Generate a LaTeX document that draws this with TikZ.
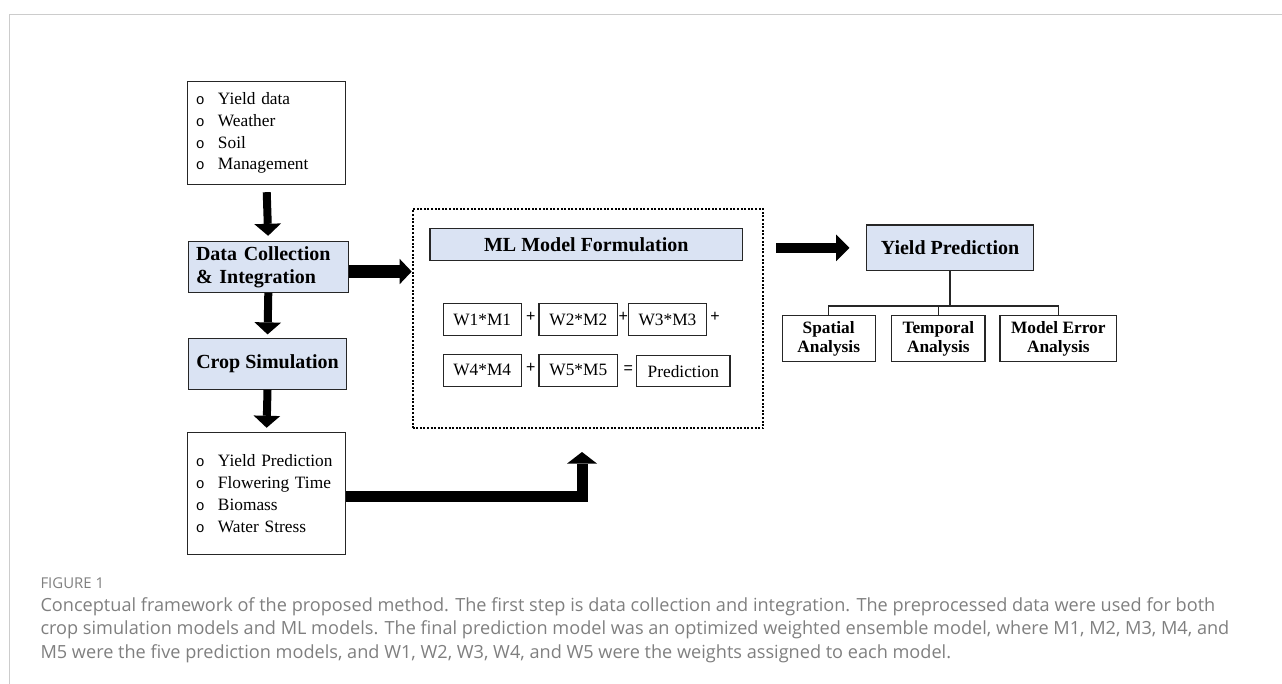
\documentclass[tikz,border=0pt]{standalone}
\usepackage{fontspec}
\setmainfont{Liberation Serif}
\setsansfont{Liberation Sans}
\newfontfamily\capfont{Open Sans}
\newfontfamily\bulfont{Liberation Mono}
\usetikzlibrary{arrows.meta, positioning, calc}
\definecolor{cblue}{HTML}{DAE3F3}
\definecolor{cedge}{HTML}{262626}
\definecolor{cgrey}{HTML}{7F7F7F}
\definecolor{cframe}{HTML}{CCCCCC}
\newcommand{\itm}[1]{\makebox[16.5pt][l]{\bulfont\fontsize{11}{11}\selectfont o}#1}
\tikzset{
  every picture/.style={line width=0.8pt},
  plain/.style={draw=cedge, fill=white, inner sep=0pt, font=\fontsize{13}{16.35}\selectfont},
  listbox/.style={plain, align=left, text width=105.8pt, inner xsep=6pt, minimum width=118.8pt},
  head/.style={draw=cedge, fill=cblue, inner sep=0pt, font=\bfseries\fontsize{15}{17}\selectfont},
  sub/.style={plain, align=center, minimum height=34.3pt, font=\bfseries\fontsize{13}{14}\selectfont},
  term/.style={plain, minimum height=24.3pt},
  op/.style={inner sep=0pt, font=\sffamily\fontsize{12}{12}\selectfont},
  blockarrow/.style={draw=black, line width=6pt, -{Triangle[length=9pt, width=20pt, line width=0pt]}},
  caption/.style={anchor=west, inner sep=0pt, text=cgrey, font=\capfont\fontsize{13.6}{15}\selectfont},
}

\begin{document}
\begin{tikzpicture}[x=0.75pt, y=-0.75pt]
  \useasboundingbox (0,0) rectangle (1282,684);
  \draw[cframe, line width=0.75pt] (9,684) -- (9,15) -- (1282,15);

  \node[listbox, minimum height=77pt] (in) at (266.5,133)
    {\itm{Yield data}\\\itm{Weather}\\\itm{Soil}\\\itm{Management}};
  \node[head, align=left, text width=108.4pt, inner xsep=5.8pt, minimum height=38pt] (dc) at (268.3,267)
    {Data Collection\\\& Integration};
  \node[head, minimum width=118.8pt, minimum height=38.3pt] (cs) at (267.5,363.8) {Crop Simulation};
  \node[listbox, minimum height=91.2pt] (out) at (266.5,493.5)
    {\itm{Yield Prediction}\\\itm{Flowering Time}\\\itm{Biomass}\\\itm{Water Stress}};

  \node[draw=black, line width=1.5pt, dash pattern=on 1.5pt off 1.2pt, minimum width=263pt, minimum height=164.3pt] (mlframe) at (588,318.8) {};
  \node[head, minimum width=234.5pt, minimum height=23.8pt] (ml) at (586.3,244.2) {ML Model Formulation};
  \node[term, minimum width=58.3pt] (w1) at (482.2,319.5) {W1*M1};
  \node[term, minimum width=59pt] (w2) at (578.3,319.5) {W2*M2};
  \node[term, minimum width=58.8pt] (w3) at (667.5,319.5) {W3*M3};
  \node[term, minimum width=58.3pt] (w4) at (482.2,370.3) {W4*M4};
  \node[term, minimum width=59pt] (w5) at (578.3,370.3) {W5*M5};
  \node[term, minimum width=70pt, minimum height=23.3pt] (pr) at (683.3,371.2) {Prediction};
  \node[op] (p1) at (530.7,317.3) {+};
  \node[op] (p2) at (623.3,317.3) {+};
  \node[op] (p3) at (715,317.3) {+};
  \node[op] (p4) at (530.7,368.3) {+};
  \node[op] (eq) at (628.3,370) {=};

  \node[head, minimum width=125pt, minimum height=34.3pt] (yp) at (950,247.9) {Yield Prediction};
  \node[sub, minimum width=69.5pt] (sp) at (828.7,338.8) {Spatial\\Analysis};
  \node[sub, minimum width=70pt] (tp) at (938.3,338.8) {Temporal\\Analysis};
  \node[sub, minimum width=87.5pt] (me) at (1058.3,338.8) {Model Error\\Analysis};
  \coordinate (split) at (950,306);
  \draw[cedge] (yp.south) -- (split);
  \draw[cedge] (sp.north) |- (split) -| (me.north);
  \draw[cedge] (tp.north) -- (tp.north |- split);

  \draw[blockarrow, shorten <=5.5pt, shorten >=4pt] (in.south) -- (dc.north);
  \draw[blockarrow, shorten >=2.5pt] (dc.south) -- (cs.north);
  \draw[blockarrow, shorten >=3.3pt] (cs.south) -- (out.north);
  \draw[blockarrow, line width=9.5pt, -{Triangle[length=9pt, width=19pt, line width=0pt]}]
    ([yshift=-3.4pt]dc.east) -- ([yshift=-3.4pt]dc.east -| mlframe.west);
  \draw[blockarrow, line width=8pt, -{Triangle[length=10pt, width=20pt, line width=0pt]}, shorten <=9pt, shorten >=12.5pt]
    (mlframe.east |- yp.west) -- (yp.west);
  \draw[blockarrow, line width=8.25pt, line join=miter, -{Triangle[length=8.7pt, width=22.5pt, line width=0pt]}, shorten >=17pt]
    ([yshift=-2.6pt]out.east) -| ([xshift=-4.5pt]mlframe.south);

  \node[caption, font=\capfont\fontsize{11.2}{12}\selectfont] (fig) at (40,583) {FIGURE 1};
  \node[caption] (cap1) at (40,606.7) {Conceptual framework of the proposed method. The first step is data collection and integration. The preprocessed data were used for both};
  \node[caption] (cap2) at (40,629.3) {crop simulation models and ML models. The final prediction model was an optimized weighted ensemble model, where M1, M2, M3, M4, and};
  \node[caption] (cap3) at (40,653.3) {M5 were the five prediction models, and W1, W2, W3, W4, and W5 were the weights assigned to each model.};
\end{tikzpicture}
\end{document}
